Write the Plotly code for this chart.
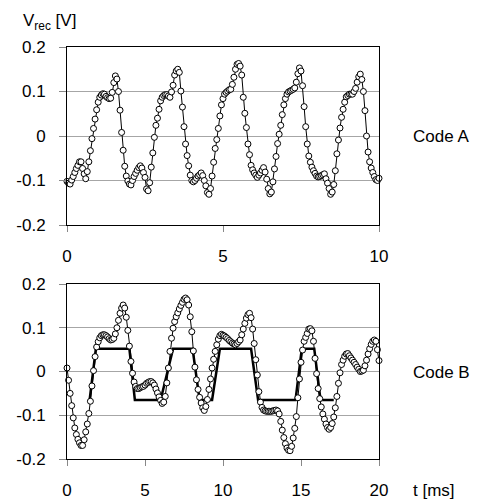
import plotly.graph_objects as go

# ---- Code A (top panel), t in ms, step 0.05 ms ----
t_a = [round(i * 0.05, 2) for i in range(201)]
v_a = [
    -0.102, -0.106, -0.108, -0.099, -0.091, -0.082, -0.073, -0.066, -0.058, -0.058,
    -0.073, -0.085, -0.096, -0.080, -0.058, -0.033, -0.006, 0.017, 0.038, 0.059,
    0.076, 0.087, 0.092, 0.095, 0.094, 0.089, 0.086, 0.084, 0.085, 0.098,
    0.120, 0.135, 0.128, 0.100, 0.058, 0.008, -0.032, -0.068, -0.090, -0.101,
    -0.108, -0.110, -0.100, -0.091, -0.084, -0.077, -0.071, -0.067, -0.072, -0.082,
    -0.093, -0.119, -0.123, -0.105, -0.070, -0.038, -0.003, 0.024, 0.040, 0.060,
    0.079, 0.087, 0.091, 0.093, 0.093, 0.090, 0.087, 0.099, 0.114, 0.137,
    0.146, 0.150, 0.143, 0.101, 0.065, 0.021, -0.018, -0.044, -0.067, -0.088,
    -0.100, -0.103, -0.100, -0.095, -0.090, -0.087, -0.083, -0.089, -0.100, -0.112,
    -0.127, -0.131, -0.118, -0.090, -0.059, -0.028, -0.008, 0.017, 0.045, 0.070,
    0.084, 0.094, 0.098, 0.101, 0.104, 0.105, 0.116, 0.132, 0.150, 0.161,
    0.163, 0.157, 0.137, 0.087, 0.051, 0.019, -0.018, -0.042, -0.066, -0.076,
    -0.083, -0.088, -0.093, -0.088, -0.083, -0.077, -0.071, -0.081, -0.097, -0.118,
    -0.130, -0.126, -0.103, -0.074, -0.046, -0.017, 0.004, 0.024, 0.048, 0.070,
    0.084, 0.094, 0.099, 0.101, 0.103, 0.105, 0.108, 0.121, 0.140, 0.153,
    0.146, 0.113, 0.066, 0.021, -0.018, -0.045, -0.059, -0.070, -0.078, -0.084,
    -0.090, -0.092, -0.091, -0.089, -0.087, -0.085, -0.096, -0.106, -0.118, -0.131,
    -0.126, -0.109, -0.078, -0.040, -0.009, 0.018, 0.042, 0.060, 0.076, 0.088,
    0.091, 0.094, 0.094, 0.094, 0.100, 0.107, 0.121, 0.133, 0.139, 0.127,
    0.100, 0.057, 0.000, -0.036, -0.058, -0.072, -0.082, -0.091, -0.098, -0.100,
    -0.095,
]

# ---- Code B (bottom panel), t in ms, step 0.1 ms ----
t_b = [round(i * 0.1, 1) for i in range(201)]
v_b = [
    0.008, -0.020, -0.050, -0.078, -0.106, -0.129, -0.144, -0.155, -0.163, -0.169,
    -0.169, -0.156, -0.138, -0.120, -0.096, -0.068, -0.033, 0.002, 0.034, 0.056,
    0.068, 0.077, 0.082, 0.084, 0.084, 0.082, 0.079, 0.075, 0.072, 0.073,
    0.076, 0.086, 0.100, 0.117, 0.133, 0.145, 0.152, 0.145, 0.124, 0.094,
    0.058, 0.023, -0.004, -0.024, -0.034, -0.039, -0.039, -0.037, -0.035, -0.034,
    -0.031, -0.027, -0.025, -0.023, -0.023, -0.026, -0.031, -0.040, -0.049, -0.058,
    -0.066, -0.073, -0.070, -0.057, -0.026, 0.008, 0.046, 0.076, 0.099, 0.114,
    0.125, 0.134, 0.143, 0.151, 0.158, 0.165, 0.168, 0.164, 0.152, 0.125,
    0.091, 0.047, 0.010, -0.019, -0.041, -0.059, -0.072, -0.083, -0.089, -0.080,
    -0.064, -0.041, -0.017, 0.008, 0.028, 0.046, 0.061, 0.074, 0.082, 0.085,
    0.083, 0.081, 0.078, 0.075, 0.071, 0.068, 0.065, 0.063, 0.061, 0.064,
    0.068, 0.072, 0.084, 0.097, 0.110, 0.122, 0.130, 0.133, 0.123, 0.097,
    0.064, 0.027, -0.008, -0.046, -0.070, -0.082, -0.088, -0.090, -0.091, -0.091,
    -0.091, -0.091, -0.090, -0.089, -0.088, -0.090, -0.097, -0.114, -0.134, -0.151,
    -0.165, -0.175, -0.180, -0.181, -0.171, -0.152, -0.130, -0.103, -0.060, -0.017,
    0.021, 0.049, 0.069, 0.078, 0.087, 0.097, 0.098, 0.093, 0.069, 0.030,
    -0.005, -0.039, -0.062, -0.081, -0.097, -0.109, -0.120, -0.128, -0.132, -0.128,
    -0.119, -0.104, -0.083, -0.057, -0.027, -0.003, 0.016, 0.026, 0.035, 0.040,
    0.041, 0.036, 0.031, 0.026, 0.021, 0.016, 0.010, 0.005, 0.000, 0.001,
    0.003, 0.013, 0.026, 0.040, 0.052, 0.062, 0.069, 0.072, 0.069, 0.050,
    0.025,
]

# ---- Code B ideal step waveform ----
step_t = [1.45, 1.85, 4.0, 4.35, 6.0, 6.8, 8.05, 8.5, 9.3, 9.8, 11.8, 12.25, 14.65, 15.05, 15.85, 16.25, 17.1]
step_v = [-0.065, 0.052, 0.052, -0.065, -0.065, 0.052, 0.052, -0.065, -0.065, 0.052, 0.052, -0.065, -0.065, 0.052, 0.052, -0.065, -0.065]

y_ticks = [-0.2, -0.1, 0, 0.1, 0.2]
y_tick_text = ["-0.2", "-0.1", "0", "0.1", "0.2"]
xa_ticks = [0, 5, 10]
xb_ticks = [0, 5, 10, 15, 20]

FONT = "Liberation Sans, Arial, sans-serif"
FS = 17

marker_style = dict(symbol="circle", size=6, color="white", line=dict(color="black", width=1))

fig = go.Figure()
fig.add_trace(go.Scatter(x=t_a, y=v_a, mode="lines+markers", xaxis="x", yaxis="y",
                         line=dict(color="black", width=1), marker=marker_style,
                         cliponaxis=False, showlegend=False))
fig.add_trace(go.Scatter(x=step_t, y=step_v, mode="lines", xaxis="x2", yaxis="y2",
                         line=dict(color="black", width=2.5), showlegend=False))
fig.add_trace(go.Scatter(x=t_b, y=v_b, mode="lines+markers", xaxis="x2", yaxis="y2",
                         line=dict(color="black", width=1), marker=marker_style,
                         cliponaxis=False, showlegend=False))

# The page body has an 8 px margin; figure is sized to fit the 488x504 window.
OFF = 8
W, H = 488 - OFF, 504 - OFF


def px_x(p):
    return (p - OFF) / W


def px_y(p):
    return 1 - (p - OFF) / H


xdom = [px_x(67), px_x(379)]
ydom_a = [px_y(225), px_y(47)]
ydom_b = [px_y(459), px_y(284)]

common_x = dict(showgrid=False, zeroline=False, showline=True, linecolor="black", linewidth=1,
                mirror=True, ticks="outside", ticklen=6, tickcolor="#888888", automargin=False,
                tickfont=dict(family=FONT, size=FS, color="black"), ticklabelstandoff=10)
common_y = dict(range=[-0.2, 0.2], tickvals=y_ticks, ticktext=y_tick_text,
                showgrid=True, gridcolor="#a6a6a6", gridwidth=1, zeroline=False,
                showline=True, linecolor="black", linewidth=1, mirror=True, automargin=False,
                ticks="outside", ticklen=7, tickcolor="#888888",
                tickfont=dict(family=FONT, size=FS, color="black"), ticklabelstandoff=10)

fig.update_layout(
    width=W, height=H, margin=dict(l=0, r=0, t=0, b=0, autoexpand=False),
    paper_bgcolor="white", plot_bgcolor="white",
    font=dict(family=FONT, size=FS, color="black"),
    xaxis=dict(domain=xdom, range=[0, 10], tickvals=xa_ticks, anchor="y", **common_x),
    yaxis=dict(domain=ydom_a, anchor="x", **common_y),
    xaxis2=dict(domain=xdom, range=[0, 20], tickvals=xb_ticks, anchor="y2", **common_x),
    yaxis2=dict(domain=ydom_b, anchor="x2", **common_y),
    annotations=[
        dict(text="V<sub>rec</sub> [V]", xref="paper", yref="paper", x=px_x(21), y=px_y(22),
             xanchor="left", yanchor="middle", showarrow=False, font=dict(size=FS)),
        dict(text="Code A", xref="paper", yref="paper", x=px_x(411), y=px_y(137),
             xanchor="left", yanchor="middle", showarrow=False, font=dict(size=FS)),
        dict(text="Code B", xref="paper", yref="paper", x=px_x(411), y=px_y(372),
             xanchor="left", yanchor="middle", showarrow=False, font=dict(size=FS)),
        dict(text="t [ms]", xref="paper", yref="paper", x=px_x(411), y=px_y(490),
             xanchor="left", yanchor="middle", showarrow=False, font=dict(size=FS)),
    ],
)

fig.write_html("out.html")
